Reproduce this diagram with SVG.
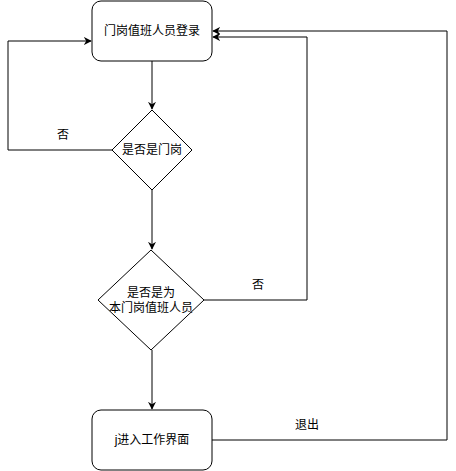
<svg xmlns="http://www.w3.org/2000/svg" width="456" height="471" viewBox="0 0 456 471">
<style>
.n{fill:#fff;stroke:#000;stroke-width:1}
.e{fill:none;stroke:#000;stroke-width:1}
.t{font-family:"Liberation Sans","Noto Sans CJK SC",sans-serif;font-size:12px;fill:#000;text-anchor:middle;dominant-baseline:central}
</style>
<defs>
<marker id="a" viewBox="0 0 10 10" refX="9" refY="5" markerWidth="8" markerHeight="8" orient="auto" markerUnits="userSpaceOnUse">
<path d="M0,0 L10,5 L0,10 L3,5 Z" fill="#000"/>
</marker>
</defs>
<rect width="456" height="471" fill="#fff"/>
<g id="edges">
<path class="e" d="M152,61 V109" marker-end="url(#a)"/>
<path class="e" d="M112,150 H8 V41 H91" marker-end="url(#a)"/>
<path class="e" d="M152,190 V249" marker-end="url(#a)"/>
<path class="e" d="M204,300 H307 V37 H213" marker-end="url(#a)"/>
<path class="e" d="M152,350 V409" marker-end="url(#a)"/>
<path class="e" d="M212,440 H447 V31 H213" marker-end="url(#a)"/>
<text class="t" x="63" y="135">否</text>
<text class="t" x="258" y="285">否</text>
<text class="t" x="307" y="425">退出</text>
</g>
<g id="login">
<rect class="n" x="92" y="1" width="120" height="60" rx="9"/>
<text class="t" x="152" y="31">门岗值班人员登录</text>
</g>
<g id="isGuard">
<path class="n" d="M152,110 L192,150 L152,190 L112,150 Z"/>
<text class="t" x="152" y="150">是否是门岗</text>
</g>
<g id="isOnDuty">
<path class="n" d="M151,250 L204,300 L151,350 L98,300 Z"/>
<text class="t" x="151" y="293">是否是为</text>
<text class="t" x="151" y="308">本门岗值班人员</text>
</g>
<g id="work">
<rect class="n" x="92" y="410" width="120" height="60" rx="9"/>
<text class="t" x="152" y="440">j进入工作界面</text>
</g>
</svg>
